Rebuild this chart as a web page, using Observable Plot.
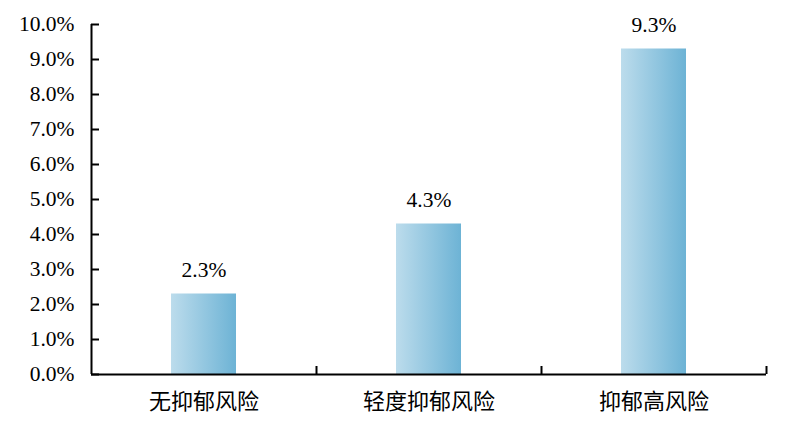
<!DOCTYPE html>
<html>
<head>
<meta charset="utf-8">
<script src="https://cdn.jsdelivr.net/npm/d3@7"></script>
<script src="https://cdn.jsdelivr.net/npm/@observablehq/plot@0.6"></script>
<style>
  html, body { margin: 0; padding: 0; background: #fff; }
  #chart svg { display: block; }
</style>
</head>
<body>
<div id="chart"></div>
<script>
const categories = ["无抑郁风险", "轻度抑郁风险", "抑郁高风险"];
const values = [0.023, 0.043, 0.093];
const yTicks = [0, 0.01, 0.02, 0.03, 0.04, 0.05, 0.06, 0.07, 0.08, 0.09, 0.10];

const data = categories.map((c, i) => ({category: c, value: values[i]}));

const W = 789, H = 434;
const mL = 91, mR = 23, mT = 24, mB = 60;
const step = (W - mL - mR) / categories.length;
const barW = 65;
const inset = (step - barW) / 2;
const fmt = d3.format(".1%");

const defs = () => {
  const d = d3.create("svg:defs");
  const g = d.append("linearGradient").attr("id", "barGrad")
    .attr("x1", "0").attr("x2", "1").attr("y1", "0").attr("y2", "0");
  g.append("stop").attr("offset", "0%").attr("stop-color", "#bcdcec");
  g.append("stop").attr("offset", "100%").attr("stop-color", "#6db3d5");
  return d.node();
};

const chart = Plot.plot({
  width: W,
  height: H,
  marginLeft: mL,
  marginRight: mR,
  marginTop: mT,
  marginBottom: mB,
  style: {fontFamily: "'Liberation Serif', 'Noto Sans CJK SC', serif", fontSize: "21px", color: "#000", background: "#fff"},
  x: {domain: categories, padding: 0, label: null},
  y: {domain: [0, 0.1], label: null},
  marks: [
    defs,
    Plot.barY(data, {x: "category", y: "value", fill: "url(#barGrad)", insetLeft: inset, insetRight: inset}),
    Plot.text(data, {x: "category", y: "value", text: d => fmt(d.value), dy: -24, fontSize: 21.5}),
    Plot.axisY({ticks: yTicks, tickFormat: fmt, tickSize: 0, tickPadding: 17, fontSize: 21.5}),
    Plot.tickY(yTicks, {y: d => d, insetRight: (W - mL - mR) - 8, stroke: "#000", strokeWidth: 2}),
    Plot.axisX({tickSize: 0, tickPadding: 19, fontSize: 22, fontFamily: "'Noto Sans CJK SC', sans-serif"}),
    Plot.tickX(categories, {x: d => d, dx: step / 2, insetTop: (H - mT - mB) - 8, stroke: "#000", strokeWidth: 2}),
    Plot.ruleY([0], {stroke: "#000", strokeWidth: 2}),
    Plot.ruleX([categories[0]], {dx: -step / 2, stroke: "#000", strokeWidth: 2})
  ]
});

document.getElementById("chart").appendChild(chart);
</script>
</body>
</html>
